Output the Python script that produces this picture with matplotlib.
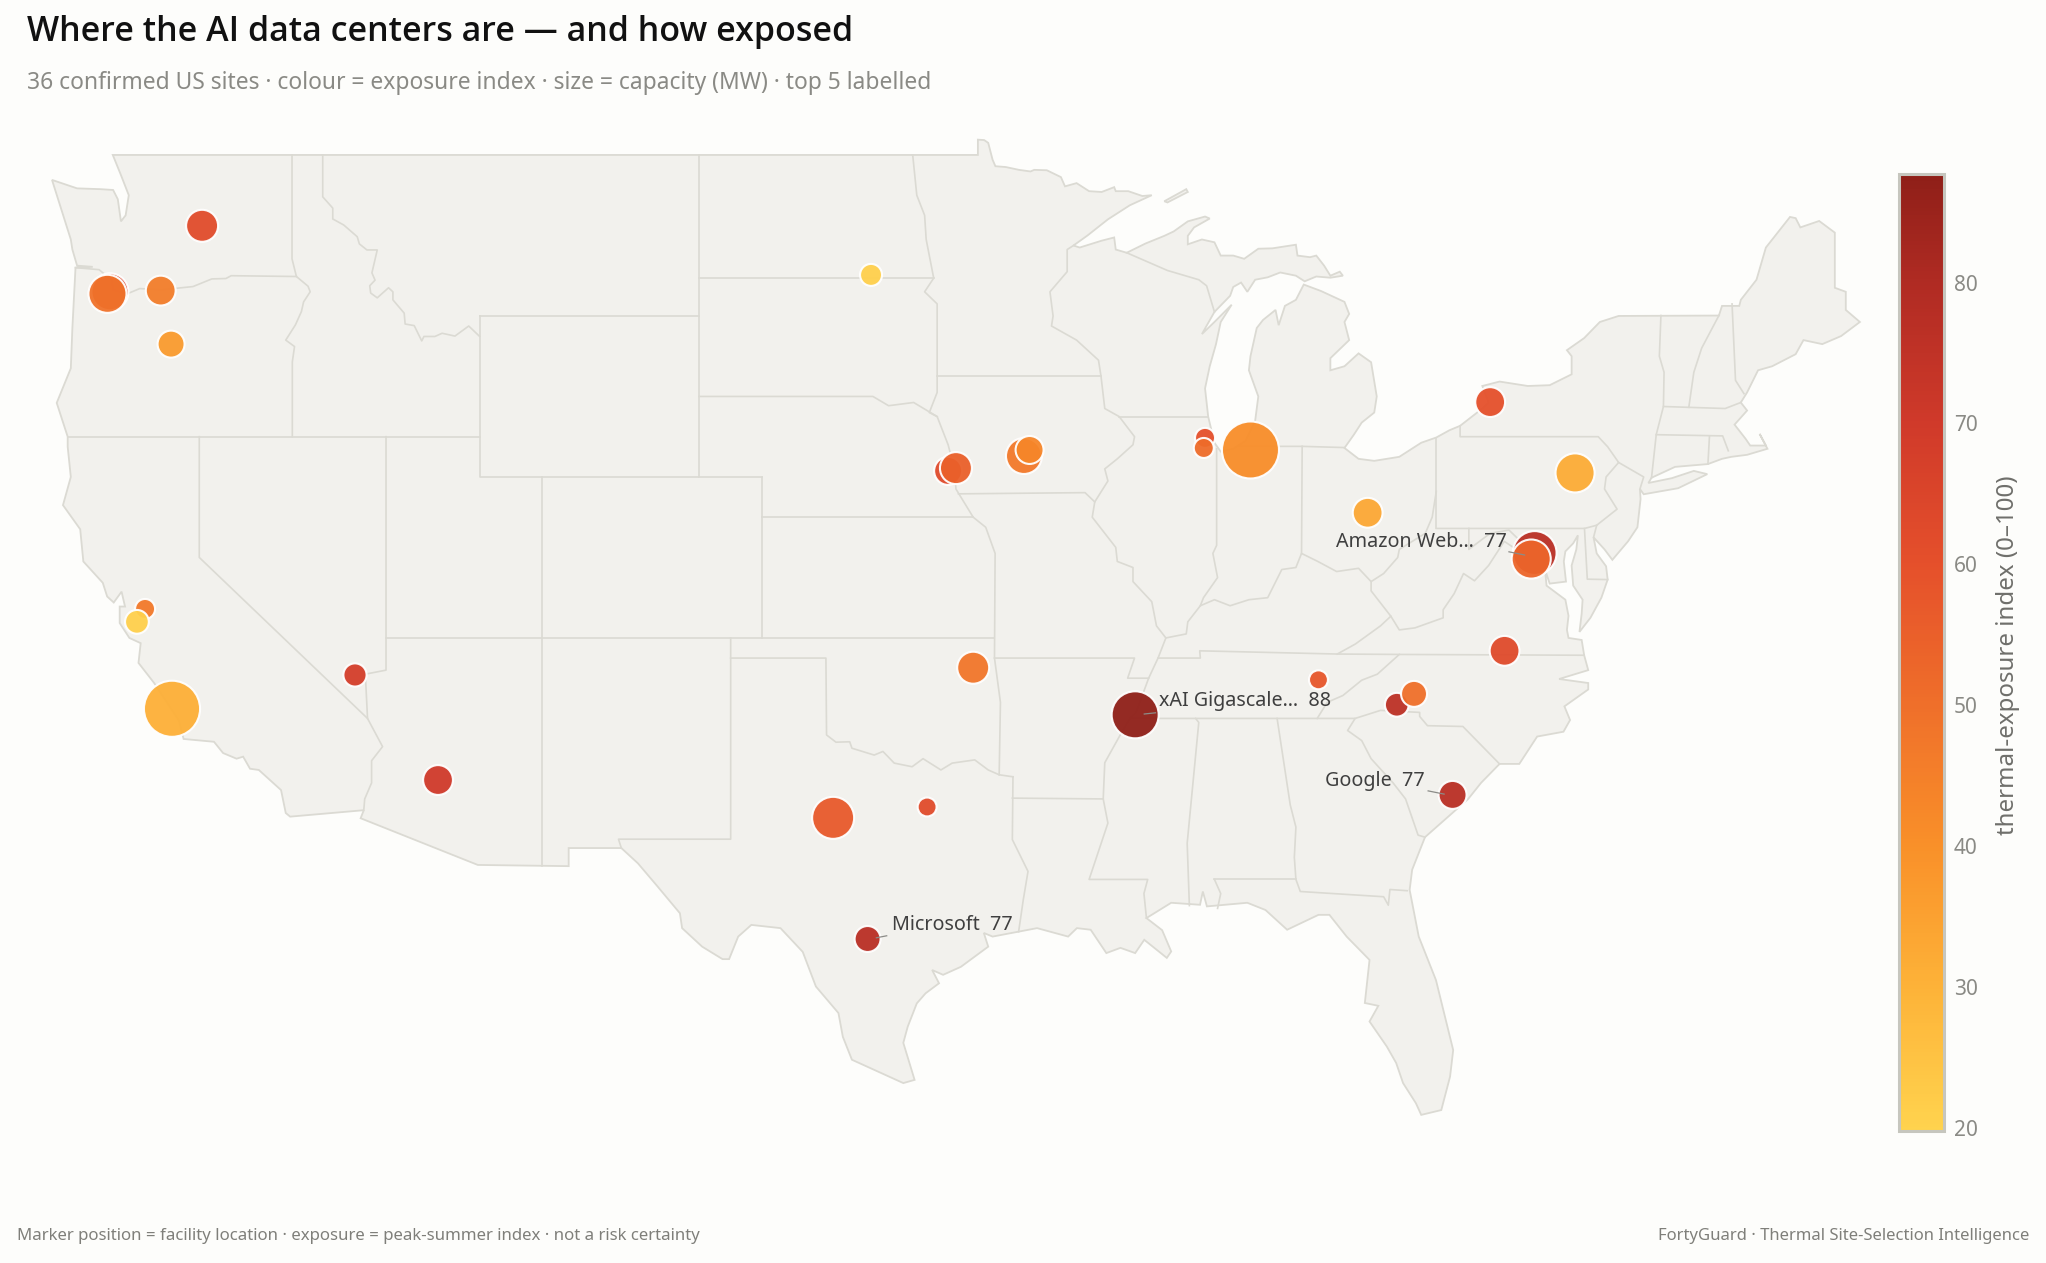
import math
import matplotlib
matplotlib.use("Agg")
import matplotlib.pyplot as plt
from matplotlib.colors import LinearSegmentedColormap
from matplotlib.patches import Polygon

plt.rcParams["font.family"] = ["Noto Sans", "DejaVu Sans"]

# sites (lon, lat, index, capacity MW) - drawn back to front
site_lon = [-119.91, -122.85, -122.93, -121.23, -120.90, -121.73, -121.99, -120.87, -115.03, -112.38, -98.56,
            -96.10, -95.85, -93.68, -93.50, -87.90, -87.94, -86.45, -82.71, -76.09, -78.80, -77.38, -77.49,
            -78.34, -84.28, -81.78, -81.23, -95.30, -90.13, -99.77, -96.77, -98.67, -80.00]
site_lat = [47.24, 45.60, 45.55, 45.63, 44.30, 37.72, 37.40, 35.24, 36.08, 33.47, 46.02,
            41.15, 41.22, 41.52, 41.67, 41.97, 41.72, 41.67, 40.11, 41.10, 42.86, 39.11, 38.96,
            36.68, 35.96, 35.34, 35.61, 36.26, 35.09, 32.53, 32.80, 29.52, 33.10]
site_index = [62, 65, 49, 46, 37, 47, 21, 31, 68, 70, 21,
              63, 55, 47, 43, 60, 51, 41, 33, 32, 60, 77, 53,
              63, 58, 76, 50, 48, 87.7, 57, 62, 77, 77]
site_mw = [360, 490, 520, 310, 250, 130, 190, 1170, 180, 310, 160,
           270, 360, 460, 270, 130, 130, 1210, 310, 550, 310, 700, 550,
           310, 115, 190, 230, 360, 810, 640, 115, 230, 270]

label_text = ["Amazon Web…  77", "xAI Gigascale…  88", "Microsoft  77", "Google  77"]
label_lon = [-83.73, -89.37, -97.89, -84.07]
label_lat = [39.39, 35.43, 29.86, 33.44]
leader_lon = [[-78.20, -77.70], [-89.48, -89.84], [-98.06, -98.39], [-80.78, -80.27]]
leader_lat = [[39.14, 39.06], [35.14, 35.11], [29.60, 29.55], [33.20, 33.12]]

cbar_ticks = [20, 30, 40, 50, 60, 70, 80]
ramp_values = [19.8, 30, 40, 50, 60, 70, 80, 87.7]
ramp_colors = ["#ffd34e", "#fdb238", "#f99029", "#ef6f2a", "#e5502b", "#d03a2a", "#b02b23", "#8f1f18"]

# lower 48 outline, clockwise from Puget Sound
land = [(-122.76,49.0),(-95.15,49.0),(-95.15,49.38),(-94.95,49.37),(-94.82,49.3),(-94.68,48.88),(-94.59,48.72),
    (-94.26,48.7),(-93.84,48.63),(-93.47,48.59),(-93.35,48.63),(-92.95,48.62),(-92.5,48.45),(-92.37,48.22),
    (-92.0,48.3),(-91.6,48.1),(-91.2,48.08),(-90.8,48.2),(-90.75,48.1),(-90.35,48.1),(-89.9,47.98),(-89.6,48.0),
    (-90.3,47.75),(-91.0,47.4),(-91.65,47.0),(-92.1,46.75),(-91.9,46.7),(-91.2,46.87),(-90.8,46.95),(-90.75,46.65),
    (-90.4,46.57),(-89.8,46.8),(-89.2,46.99),(-88.9,47.1),(-88.45,47.35),(-87.9,47.47),(-87.75,47.42),(-88.25,47.2),
    (-88.45,46.99),(-88.45,46.78),(-88.0,46.9),(-87.6,46.83),(-87.4,46.5),(-87.0,46.5),(-86.65,46.42),(-86.2,46.67),
    (-85.75,46.68),(-85.0,46.77),(-84.95,46.5),(-84.55,46.46),(-84.35,46.5),(-84.1,46.25),(-83.9,46.0),(-83.6,46.1),
    (-83.5,46.0),(-83.9,45.95),(-84.35,45.98),(-84.72,45.86),(-85.0,46.0),(-85.5,46.08),(-85.9,45.96),(-86.3,45.9),
    (-86.55,45.6),(-86.75,45.83),(-87.0,45.72),(-87.1,45.5),(-87.6,45.1),(-88.0,44.55),(-87.6,44.85),(-87.05,45.28),
    (-87.4,44.85),(-87.55,44.3),(-87.75,43.75),(-87.9,43.2),(-87.8,42.5),(-87.6,41.85),(-87.4,41.63),(-87.0,41.7),
    (-86.6,41.9),(-86.3,42.4),(-86.2,43.0),(-86.5,43.65),(-86.45,44.0),(-86.25,44.7),(-86.05,44.9),(-85.65,45.15),
    (-85.55,44.77),(-85.35,45.25),(-85.0,45.4),(-84.75,45.78),(-84.2,45.62),(-83.45,45.35),(-83.3,45.05),(-83.45,44.85),
    (-83.3,44.4),(-83.9,43.95),(-83.9,43.65),(-83.45,43.75),(-83.0,44.07),(-82.6,43.85),(-82.42,43.0),(-82.5,42.6),
    (-82.9,42.35),(-83.15,42.05),(-83.45,41.72),(-83.0,41.45),(-82.5,41.4),(-81.7,41.5),(-81.0,41.85),(-80.52,41.98),
    (-80.1,42.16),(-79.76,42.27),(-79.05,42.7),(-78.85,42.85),(-79.05,43.26),(-78.5,43.37),(-77.6,43.26),(-76.9,43.28),
    (-76.2,43.55),(-76.2,44.0),(-76.35,44.15),(-75.8,44.45),(-75.3,44.85),(-74.7,45.0),(-71.5,45.01),(-71.4,45.25),
    (-70.85,45.25),(-70.8,45.4),(-70.3,45.9),(-70.0,46.7),(-69.23,47.46),(-69.05,47.43),(-68.9,47.2),(-68.3,47.36),
    (-67.8,47.07),(-67.8,45.7),(-67.45,45.6),(-67.45,45.15),(-67.0,44.85),(-67.6,44.5),(-68.2,44.3),(-68.8,44.4),
    (-69.05,44.05),(-69.8,43.75),(-70.25,43.65),(-70.6,43.1),(-70.8,42.85),(-70.6,42.65),(-71.0,42.3),(-70.65,41.95),
    (-70.5,41.78),(-70.0,41.78),(-70.2,42.07),(-69.95,41.7),(-70.6,41.55),(-71.1,41.5),(-71.4,41.45),(-71.85,41.32),
    (-72.9,41.25),(-73.65,40.98),(-73.75,40.85),(-73.0,40.97),(-72.3,41.15),(-71.87,41.07),(-72.8,40.72),(-73.9,40.57),
    (-74.02,40.7),(-74.0,40.45),(-74.1,39.75),(-74.4,39.4),(-74.9,38.94),(-75.15,39.2),(-75.5,39.5),(-75.4,39.1),
    (-75.1,38.78),(-75.05,38.45),(-75.25,38.0),(-75.6,37.5),(-75.95,37.15),(-75.88,37.6),(-75.85,37.95),(-76.15,38.3),
    (-76.2,38.8),(-76.05,39.2),(-76.0,39.55),(-76.15,39.35),(-76.4,39.15),(-76.45,38.9),(-76.38,38.4),(-76.9,38.35),
    (-77.05,38.7),(-77.0,38.3),(-76.4,37.95),(-76.3,37.55),(-76.35,37.2),(-76.3,37.0),(-75.88,36.95),(-75.8,36.57),
    (-75.67,36.2),(-76.6,35.98),(-75.67,35.88),(-75.67,35.72),(-76.43,35.3),(-76.25,34.96),(-76.46,34.67),(-77.3,34.55),
    (-77.87,33.87),(-78.5,33.87),(-79.09,33.4),(-79.5,33.0),(-80.08,32.6),(-80.88,32.05),(-81.29,31.24),(-81.37,30.74),
    (-81.08,29.58),(-80.53,28.5),(-79.98,26.76),(-80.08,26.1),(-80.36,25.27),(-81.0,25.15),(-81.17,25.44),(-81.58,25.94),
    (-81.8,26.44),(-82.1,26.85),(-82.65,27.47),(-82.37,27.86),(-82.8,27.93),(-82.65,29.0),(-83.38,29.58),(-83.93,30.12),
    (-84.28,30.12),(-85.28,29.75),(-85.97,30.24),(-86.55,30.42),(-87.84,30.33),(-87.97,30.7),(-88.06,30.37),(-88.98,30.42),
    (-89.77,30.04),(-89.27,29.74),(-88.98,29.21),(-89.12,29.05),(-89.84,29.5),(-90.13,29.17),(-90.6,29.3),(-91.05,29.17),
    (-91.55,29.75),(-91.99,29.79),(-92.27,29.58),(-93.26,29.79),(-94.68,29.58),(-94.96,29.67),(-94.82,29.33),(-95.69,28.83),
    (-96.26,28.63),(-96.61,28.75),(-96.39,28.42),(-96.82,28.17),(-97.1,27.92),(-97.39,27.34),(-97.53,26.94),(-97.17,26.02),
    (-97.53,25.94),(-99.17,26.52),(-99.46,27.09),(-99.6,27.68),(-100.32,28.34),(-100.74,29.2),(-101.45,29.79),(-102.38,29.87),
    (-102.8,29.58),(-103.09,29.02),(-103.3,29.02),(-103.95,29.33),(-104.59,29.79),(-104.66,30.16),(-105.4,30.85),(-106.0,31.4),
    (-106.53,31.78),(-108.21,31.78),(-108.21,31.33),(-111.11,31.36),(-114.85,32.52),(-114.75,32.72),(-117.1,32.56),
    (-117.24,32.65),(-117.39,33.22),(-118.1,33.72),(-118.38,33.75),(-118.6,34.05),(-118.81,34.0),(-119.24,34.14),
    (-119.53,34.42),(-120.5,34.49),(-120.65,34.95),(-121.44,35.88),(-121.94,36.38),(-121.87,36.87),(-122.23,37.0),
    (-122.54,37.37),(-122.54,37.78),(-122.37,37.78),(-122.48,38.15),(-122.73,37.88),(-122.94,38.03),(-123.08,38.37),
    (-123.7,38.9),(-123.8,39.7),(-124.35,40.3),(-124.1,41.0),(-124.2,41.75),(-124.2,42.0),
    (-124.55,42.84),(-124.1,43.7),(-124.05,44.7),(-123.95,46.2),(-123.4,46.22),(-123.9,46.25),(-124.05,46.65),
    (-124.1,46.9),(-124.7,48.38),(-123.9,48.17),(-123.15,48.15),(-122.75,48.13),(-122.6,47.9),(-122.5,47.35),
    (-122.35,47.5),(-122.25,48.0),(-122.5,48.5)]
isle_royale = [(-89.2,47.85),(-88.5,48.15),(-88.45,48.08),(-89.1,47.82)]

# state lines
borders = [
    [(-117.04,49),(-117.04,46.42),(-116.9,45.98),(-116.53,45.74),(-116.46,45.6),(-116.67,45.35),(-116.74,45.11),(-116.93,44.78),(-117.24,44.4),(-116.96,44.24),(-117.03,43.86),(-117.03,42.0)],
    [(-116.9,45.98),(-118.98,46.0),(-119.15,45.93),(-119.6,45.92),(-120.2,45.73),(-121.2,45.65),(-121.9,45.68),(-122.3,45.55),(-122.75,45.65),(-122.8,45.9),(-123.2,46.15),(-123.95,46.2)],
    [(-124.2,42),(-111.05,42)],
    [(-116.06,49),(-116.06,47.96),(-115.74,47.68),(-115.74,47.41),(-115.39,47.26),(-114.96,46.97),(-114.89,46.79),(-114.65,46.64),(-114.32,46.64),(-114.49,46.07),(-114.39,45.89),(-114.56,45.75),(-114.53,45.57),(-114.32,45.45),(-113.96,45.7),(-113.82,45.6),(-113.82,45.4),(-113.46,45.07),(-113.43,44.8),(-113.14,44.76),(-112.9,44.38),(-112.83,44.49),(-112.48,44.49),(-112.25,44.57),(-111.84,44.5),(-111.4,44.75),(-111.05,44.49)],
    [(-111.05,45),(-104.05,45),(-104.05,41),(-111.05,41),(-111.05,45)],
    [(-114.04,42),(-114.04,36.2),(-114.7,36.1),(-114.63,35.0),(-114.15,34.3),(-114.5,33.95),(-114.5,33.4),(-114.72,33.0),(-114.75,32.72)],
    [(-120,42),(-120,39),(-114.63,35.0)],
    [(-109.05,41),(-109.05,31.33)],
    [(-114.04,37),(-94.62,37)],
    [(-102.05,41),(-102.05,37)],
    [(-104.05,41),(-102.05,41)],
    [(-102.05,40),(-95.3,40)],
    [(-104.05,49),(-104.05,45)],
    [(-104.05,45.94),(-96.56,45.94)],
    [(-104.05,43),(-98.5,43),(-98.0,42.77),(-97.2,42.85),(-96.45,42.5)],
    [(-97.23,49),(-97.1,48.0),(-96.85,47.5),(-96.8,46.9),(-96.56,45.94),(-96.85,45.6),(-96.45,45.3),(-96.45,43.1),(-96.7,42.6),(-96.45,42.5),(-96.1,41.8),(-95.9,41.2),(-95.85,40.7),(-95.3,40),(-94.9,39.75),(-94.6,39.1),(-94.62,36.5),(-94.43,35.4),(-94.47,33.6)],
    [(-96.45,43.5),(-91.22,43.5)],
    [(-95.77,40.58),(-91.73,40.61),(-91.42,40.38)],
    [(-92.1,46.75),(-92.3,46.65),(-92.3,46.1),(-92.85,45.6),(-92.75,45.0),(-92.8,44.75),(-92.0,44.4),(-91.3,43.9),(-91.22,43.5),(-91.1,42.7),(-90.64,42.5),(-90.15,42.0),(-90.2,41.8),(-90.7,41.45),(-91.1,41.2),(-91.0,40.9),(-91.42,40.38),(-91.5,40.0),(-90.75,39.25),(-90.7,38.9),(-90.2,38.75),(-90.2,38.4),(-89.6,37.9),(-89.45,37.3),(-89.15,37.0),(-89.4,36.5),(-89.7,36.0),(-90.1,35.15),(-90.3,35.0),(-90.6,34.6),(-91.1,33.9),(-91.15,33.0),(-91.0,32.4),(-91.6,31.0),(-89.73,31.0),(-89.85,30.65),(-89.77,30.04)],
    [(-89.7,36.0),(-90.37,36.0),(-90.15,36.5),(-94.62,36.5)],
    [(-94.03,33.55),(-94.05,31.99),(-93.55,31.2),(-93.7,30.5),(-93.85,29.7)],
    [(-94.05,33.02),(-91.15,33.0)],
    [(-103.04,36.5),(-100,36.5),(-99.98,34.59),(-99.68,34.41),(-99.24,34.42),(-99.17,34.26),(-98.46,34.09),(-98.18,34.18),(-97.82,33.89),(-97.25,33.8),(-96.9,34.0),(-96.33,33.72),(-95.97,33.89),(-95.25,33.97),(-94.82,33.72),(-94.47,33.6),(-94.03,33.55)],
    [(-103.04,37),(-103.04,32),(-106.62,32),(-106.53,31.78)],
    [(-88.2,35.0),(-88.1,34.9),(-88.47,31.9),(-88.4,30.35)],
    [(-85.6,35),(-85.18,32.85),(-85.0,32.3),(-85.05,31.55),(-85.0,31.0),(-84.86,30.7),(-82.2,30.57),(-82.05,30.36),(-82.0,30.75),(-81.45,30.72)],
    [(-87.6,31.0),(-85.0,31.0)],
    [(-87.6,31),(-87.4,30.65),(-87.5,30.28)],
    [(-90.3,35),(-83.11,35),(-83.35,34.7),(-82.9,34.45),(-82.6,34.0),(-81.9,33.4),(-81.5,33.0),(-81.1,32.1),(-80.88,32.05)],
    [(-84.32,35),(-84.0,35.4),(-83.5,35.57),(-82.9,35.95),(-82.4,36.1),(-81.7,36.59)],
    [(-89.4,36.5),(-88.05,36.5),(-88.07,36.68),(-83.68,36.6),(-81.7,36.59),(-75.8,36.57)],
    [(-83.11,35),(-82.3,35.2),(-81.05,35.15),(-81.05,35.05),(-80.8,34.82),(-79.67,34.8),(-78.5,33.87)],
    [(-83.68,36.6),(-83.1,36.85),(-82.3,37.3),(-81.97,37.54),(-82.6,38.17),(-82.6,38.4)],
    [(-81.97,37.54),(-81.7,37.2),(-81.2,37.25),(-80.3,37.5),(-80.3,37.7),(-79.95,38.1),(-79.65,38.6),(-79.3,38.42),(-78.85,38.8),(-78.35,39.4),(-77.83,39.13),(-77.72,39.32),(-77.45,39.15),(-77.05,38.85)],
    [(-77.72,39.32),(-78.2,39.68),(-78.8,39.6),(-79.48,39.2),(-79.48,39.72)],
    [(-80.52,39.72),(-75.79,39.72),(-75.4,39.8)],
    [(-75.79,39.72),(-75.7,38.46),(-75.05,38.45)],
    [(-80.52,41.98),(-80.52,39.72)],
    [(-80.52,40.64),(-80.65,40.0),(-80.87,39.6),(-81.7,39.2),(-81.75,39.0),(-82.2,38.6),(-82.6,38.4),(-83.0,38.73),(-83.7,38.65),(-84.3,38.9),(-84.82,39.1),(-85.0,38.75),(-85.45,38.7),(-85.9,38.0),(-86.5,37.95),(-87.1,37.8),(-87.6,37.95),(-88.05,37.8),(-88.45,37.4),(-88.5,37.1),(-89.15,37.0)],
    [(-84.82,39.1),(-84.8,41.76)],
    [(-86.82,41.76),(-84.8,41.76),(-83.45,41.73)],
    [(-87.53,41.7),(-87.53,39.3),(-87.65,39.1),(-87.5,38.5),(-87.95,38.0),(-88.05,37.8)],
    [(-90.64,42.5),(-87.8,42.5)],
    [(-90.4,46.57),(-89.1,46.13),(-88.1,45.9),(-87.85,45.75),(-87.6,45.1)],
    [(-79.76,42.27),(-79.76,42.0),(-75.35,42.0),(-75.05,41.75),(-74.7,41.36),(-75.1,41.0),(-75.15,40.7),(-74.75,40.2),(-75.4,39.8),(-75.5,39.5)],
    [(-74.7,41.36),(-73.9,41.0),(-74.02,40.7)],
    [(-73.65,40.98),(-73.5,42.05),(-73.27,42.75),(-73.25,43.6),(-73.4,44.0),(-73.35,45.01)],
    [(-72.46,42.73),(-72.3,43.6),(-72.05,44.2),(-71.5,45.01)],
    [(-73.5,42.05),(-71.38,42.02),(-71.2,41.65)],
    [(-71.8,42.02),(-71.85,41.32)],
    [(-73.27,42.75),(-71.3,42.7),(-70.8,42.85)],
    [(-70.7,43.07),(-70.97,43.4),(-71.08,45.3)],
]

# figure pixels <-> map degrees, read from the straight borders
fig = plt.figure(figsize=(20.46, 12.63), dpi=100, facecolor="#fdfdfb")
ax = fig.add_axes([0, 0, 1, 1])
ax.set_xlim(-126.36, -61.06)
ax.set_ylim(21.47, 52.85)
ax.axis("off")

line_c = "#dbdad3"
ax.add_patch(Polygon(land, closed=True, facecolor="#f2f1ed", edgecolor=line_c, linewidth=1.3, zorder=1))
ax.add_patch(Polygon(isle_royale, closed=True, facecolor="#f2f1ed", edgecolor=line_c, linewidth=1.3, zorder=1))
for b in borders:
    ax.plot([p[0] for p in b], [p[1] for p in b], color=line_c, linewidth=1.2, zorder=2, solid_joinstyle="round")

stops = [(v - ramp_values[0]) / (ramp_values[-1] - ramp_values[0]) for v in ramp_values]
cmap = LinearSegmentedColormap.from_list("exposure", list(zip(stops, ramp_colors)))

# area follows MW, plus a bit so the white ring does not eat the fill
sizes = [(math.sqrt(1.3 * m) + 1.4) ** 2 for m in site_mw]
sc = ax.scatter(site_lon, site_lat, s=sizes, c=site_index, cmap=cmap, vmin=ramp_values[0], vmax=ramp_values[-1],
                edgecolors="white", linewidths=1.5, alpha=0.95, zorder=3)

for i in range(len(label_text)):
    ax.plot(leader_lon[i], leader_lat[i], color="#8c8c88", linewidth=0.9, zorder=4)
    ax.text(label_lon[i], label_lat[i], label_text[i], ha="left", va="center", fontsize=14.2, color="#3f3f3f", zorder=5)

cax = fig.add_axes([1899 / 2046, (1263 - 1131) / 1263, 45 / 2046, 957 / 1263])
cbar = fig.colorbar(sc, cax=cax, ticks=cbar_ticks)
cbar.solids.set_alpha(1)
cbar.outline.set_edgecolor("#c6c6be")
cbar.outline.set_linewidth(2.2)
cbar.ax.tick_params(length=0, pad=7, labelsize=15, labelcolor="#8a8a85")
fig.text(2008 / 2046, 1 - 655 / 1263, "thermal-exposure index (0–100)", rotation=90, ha="center", va="center",
         fontsize=17.3, color="#6f6f6b")

fig.text(27 / 2046, 1 - 32 / 1263, "Where the AI data centers are — and how exposed", ha="left", va="center",
         fontsize=24.5, fontweight=600, fontfamily=["Open Sans", "DejaVu Sans"], color="#111111")
fig.text(27 / 2046, 1 - 83 / 1263, "36 confirmed US sites · colour = exposure index · size = capacity (MW) · top 5 labelled",
         ha="left", va="center", fontsize=16.45, color="#8a8a85")
fig.text(17 / 2046, 1 - 1236 / 1263, "Marker position = facility location · exposure = peak-summer index · not a risk certainty",
         ha="left", va="center", fontsize=12.1, color="#7f7f7a")
fig.text(2029 / 2046, 1 - 1236 / 1263, "FortyGuard · Thermal Site-Selection Intelligence",
         ha="right", va="center", fontsize=12, color="#7f7f7a")

fig.savefig("out.png", dpi=100, facecolor=fig.get_facecolor())
